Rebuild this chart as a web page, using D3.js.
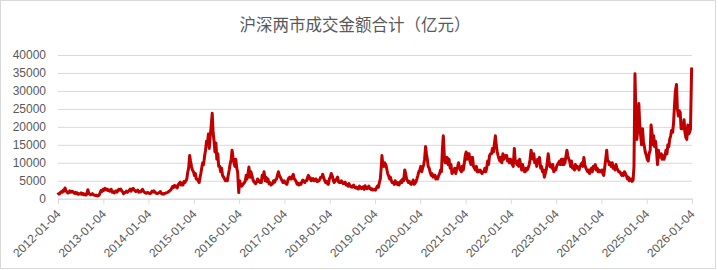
<!DOCTYPE html>
<html>
<head>
<meta charset="utf-8">
<script src="https://cdn.jsdelivr.net/npm/d3@7"></script>
<style>
  html, body { margin: 0; padding: 0; background: #fff; }
  svg { display: block; font-family: "Liberation Sans", "Noto Sans CJK SC", sans-serif; }
</style>
</head>
<body>
<svg id="chart"></svg>
<script>
/** Chart values (亿元): four readings per month (1st, 8th, 16th, 23rd), one row per month */
const title = '沪深两市成交金额合计（亿元）';

const vol2012 = [
    1100, 1400, 1300, 1700,   2000, 1800, 2400, 2100,   3000, 2200, 1900, 1600,
    1700, 2200, 1800, 2100,   2000, 1700, 1500, 1800,   1400, 1600, 1200, 1400,
    1300, 1600, 1200, 1500,   1100, 1300, 1000, 1200,   2500, 1500, 1300, 1100,
    1200, 1400, 1100, 1000,   900, 1000, 750, 850,      1000, 1600, 2300, 2000];
const vol2013 = [
    2600, 2300, 2900, 2500,   2700, 2300, 2500, 2100,   2200, 2600, 1800, 2000,
    1600, 1900, 2200, 1800,   2200, 2600, 2400, 2700,   2200, 1900, 1400, 1700,
    1700, 2100, 1800, 2000,   2300, 2700, 2100, 2600,   2900, 2500, 2200, 2000,
    2200, 2400, 1800, 2000,   1900, 2300, 2600, 2100,   1800, 1600, 1500, 1700];
const vol2014 = [
    1700, 1500, 1400, 1600,   2100, 1900, 2200, 1800,   1700, 1500, 1400, 1600,
    1700, 2000, 1500, 1300,   1400, 1300, 1500, 1600,   1700, 1800, 2000, 2200,
    2400, 2800, 3400, 3100,   3700, 3300, 3500, 3000,   4000, 4300, 4600, 3800,
    4200, 3800, 4800, 4500,   5000, 5500, 7500, 8500,   12000, 10500, 9000, 8000];
const vol2015 = [
    7500, 6500, 7000, 5500,   5500, 5000, 4500, 6000,   7000, 8500, 10000, 9500,
    12000, 13500, 16000, 15000, 18000, 14000, 17500, 20000, 23800, 18500, 16000, 13000,
    15500, 11000, 12500, 9000, 9000, 7500, 8500, 6500,  6000, 5500, 5000, 5500,
    5000, 6500, 8000, 9500,   11000, 13500, 11500, 10000, 9000, 11000, 8500, 7500];
const vol2016 = [
    1700, 5000, 4000, 3500,   3800, 4200, 4500, 5000,   6500, 5500, 7000, 8800,
    6000, 7500, 6500, 5500,   4800, 4500, 4200, 4600,   5500, 4800, 5000, 4500,
    4500, 6500, 6000, 7500,   5000, 6000, 4800, 5500,   4200, 4500, 3800, 4000,
    4200, 5000, 4600, 5200,   5500, 6500, 7500, 6500,   6000, 5500, 5000, 4500];
const vol2017 = [
    5000, 4500, 4200, 4000,   5200, 5800, 6000, 5500,   5500, 6200, 6800, 5600,
    5200, 4800, 4000, 4300,   3800, 4200, 4000, 4600,   5200, 4800, 4500, 5000,
    5000, 5800, 6500, 5500,   5800, 5000, 5200, 5600,   5000, 5400, 5500, 4800,
    4800, 5000, 5400, 6000,   6000, 6800, 5800, 5200,   4500, 4800, 4200, 4000];
const vol2018 = [
    5500, 6000, 7000, 6500,   5200, 4500, 4800, 5300,   5500, 6000, 4700, 4500,
    4500, 5000, 4600, 4200,   4200, 4600, 3800, 4000,   3500, 4200, 3600, 3300,
    3200, 3500, 3800, 3200,   3000, 3200, 2800, 2700,   3500, 3000, 2800, 3200,
    3300, 2600, 3600, 3000,   2800, 3200, 3500, 2800,   2600, 2800, 2400, 2500];
const vol2019 = [
    2600, 2400, 3000, 3500,   3200, 4500, 5500, 8500,   12000, 9500, 9000, 10000,
    9500, 8500, 7000, 6500,   5500, 6000, 5000, 4500,   4500, 4000, 5000, 4200,
    4000, 4500, 3800, 4300,   5000, 4500, 5500, 5000,   8000, 7000, 5500, 5000,
    4500, 4800, 4200, 4000,   4500, 5200, 4000, 4300,   4800, 5500, 6500, 7500];
const vol2020 = [
    8000, 9000, 7500, 8500,   9500, 11000, 14500, 12500, 11000, 9000, 8500, 7500,
    6500, 7000, 6000, 6500,   6500, 5500, 6000, 5500,   6500, 7000, 8000, 7500,
    14000, 17500, 12000, 10000, 10000, 11500, 9500, 11000, 8500, 9500, 7000, 7500,
    7500, 8500, 7000, 8000,   9000, 10000, 8500, 8000,  7500, 9000, 8000, 9500];
const vol2021 = [
    12000, 13000, 11000, 12500, 12500, 10500, 9500, 11500, 11500, 9000, 8500, 8000,
    9000, 7500, 8000, 7500,   8000, 7500, 7000, 7500,   7500, 8500, 7500, 8500,
    10500, 9500, 12000, 12500, 12500, 14000, 13000, 15000, 17500, 15000, 13000, 12000,
    11000, 10500, 11500, 10000, 12500, 11000, 11500, 12000, 12000, 10500, 11000, 10000];
const vol2022 = [
    11000, 10000, 9500, 9000, 14000, 10500, 10000, 9500, 10500, 9000, 11000, 9500,
    8000, 9500, 8500, 7500,   7500, 8500, 8000, 8500,   9500, 11000, 13500, 12000,
    11000, 12500, 10000, 10500, 9000, 11000, 10000, 11500, 8500, 9000, 7500, 8000,
    6000, 7000, 8000, 9500,   12500, 10500, 9000, 9500, 8500, 9500, 7500, 8000];
const vol2023 = [
    8000, 9000, 9500, 10000,  10500, 9500, 11000, 9500, 11000, 9500, 10000, 11500,
    13500, 12000, 11000, 10500, 9000, 10500, 8500, 9000, 8000, 9500, 8500, 9000,
    8500, 8000, 9000, 9500,   10000, 9000, 11500, 9500, 8500, 8000, 7500, 8000,
    7000, 8000, 8500, 7500,   9000, 8500, 9500, 8000,   8500, 7500, 8000, 7500];
const vol2024 = [
    7500, 8000, 7000, 6500,   9000, 11000, 13500, 10500, 10500, 9500, 10000, 9000,
    10000, 8500, 9000, 8000,  9500, 8500, 8000, 7500,   7500, 7000, 6500, 7000,
    6500, 7500, 7000, 6500,   5500, 6000, 5000, 5500,   5500, 4800, 5200, 9000,
    34800, 24000, 16500, 19000, 26500, 21000, 17500, 15000, 19500, 16000, 14500, 13000];
const vol2025 = [
    12000, 11000, 10500, 12500, 13500, 20500, 18000, 15000, 17500, 14500, 16000, 13500,
    9500, 13500, 11500, 12000, 12500, 11000, 12000, 11000, 12000, 13500, 12500, 15000,
    14500, 16500, 17500, 19000, 18500, 21000, 26000, 30000, 31800, 25000, 23000, 24500,
    24000, 19500, 21000, 19500, 22000, 18500, 17000, 16500, 20500, 18000, 18500, 19500];
const vol2026 = [36500];

const years = [2012, 2013, 2014, 2015, 2016, 2017, 2018, 2019, 2020, 2021, 2022, 2023, 2024, 2025, 2026];
const yearValues = [vol2012, vol2013, vol2014, vol2015, vol2016, vol2017, vol2018, vol2019, vol2020, vol2021, vol2022, vol2023, vol2024, vol2025, vol2026];
const readingDays = [1, 8, 16, 23];

const xTickLabels = ['2012-01-04', '2013-01-04', '2014-01-04', '2015-01-04', '2016-01-04', '2017-01-04', '2018-01-04',
                     '2019-01-04', '2020-01-04', '2021-01-04', '2022-01-04', '2023-01-04', '2024-01-04', '2025-01-04', '2026-01-04'];
const yTicks = [0, 5000, 10000, 15000, 20000, 25000, 30000, 35000, 40000];

/** Layout */
const width = 718;
const height = 270;
const plotLeft = 58;
const plotRight = 692;
const plotTop = 55;
const plotBottom = 198.7;

const parseDay = d3.timeParse('%Y-%m-%d');

// build the rows: date + value
let values = [];
years.forEach((yr, k) => {
    yearValues[k].forEach((v, i) => {
        values.push({ date: new Date(yr, Math.floor(i / 4), readingDays[i % 4]), value: v });
    });
});

const svg = d3.select('#chart').attr('width', width).attr('height', height);

// outer frame
svg.append('rect')
    .attr('x', 0.5).attr('y', 0.5)
    .attr('width', width - 3).attr('height', height - 2)
    .attr('fill', '#fff')
    .attr('stroke', '#d9d9d9');

const xScale = d3.scaleTime()
    .domain([parseDay(xTickLabels[0]), parseDay(xTickLabels[xTickLabels.length - 1])])
    .range([plotLeft, plotRight]);

const yScale = d3.scaleLinear()
    .domain([0, 40000])
    .range([plotBottom, plotTop]);

// title
svg.append('text')
    .attr('x', 355)
    .attr('y', 31)
    .attr('text-anchor', 'middle')
    .attr('fill', '#595959')
    .style('font-size', '16.5px')
    .style('font-family', '"Noto Sans CJK SC", sans-serif')
    .text(title);

// y axis with gridlines
const yAxis = d3.axisLeft(yScale)
    .tickValues(yTicks)
    .tickSize(-(plotRight - plotLeft))
    .tickPadding(12)
    .tickFormat(d3.format('d'));

const gy = svg.append('g')
    .attr('transform', `translate(${plotLeft}, 0)`)
    .call(yAxis);
gy.select('.domain').remove();
gy.selectAll('line').attr('stroke', '#d9d9d9');
gy.selectAll('text').attr('fill', '#595959').style('font-size', '12px');

// x axis, labels turned 45 degrees
const xAxis = d3.axisBottom(xScale)
    .tickValues(xTickLabels.map(parseDay))
    .tickSize(5)
    .tickFormat(d3.timeFormat('%Y-%m-%d'));

const gx = svg.append('g')
    .attr('transform', `translate(0, ${plotBottom})`)
    .call(xAxis);
gx.select('.domain').attr('stroke', '#d9d9d9');
gx.selectAll('line').attr('stroke', '#d9d9d9');
gx.selectAll('text')
    .attr('fill', '#595959')
    .style('font-size', '12px')
    .attr('text-anchor', 'end')
    .attr('transform', 'translate(3, 16) rotate(-45)')
    .attr('dy', 0)
    .attr('y', 0)
    .attr('x', 0);

// the line
const line = d3.line()
    .x(d => xScale(d.date))
    .y(d => yScale(d.value));

svg.append('path')
    .datum(values)
    .attr('fill', 'none')
    .attr('stroke', '#C00000')
    .attr('stroke-width', 3)
    .attr('stroke-linejoin', 'round')
    .attr('d', line);
</script>
</body>
</html>
